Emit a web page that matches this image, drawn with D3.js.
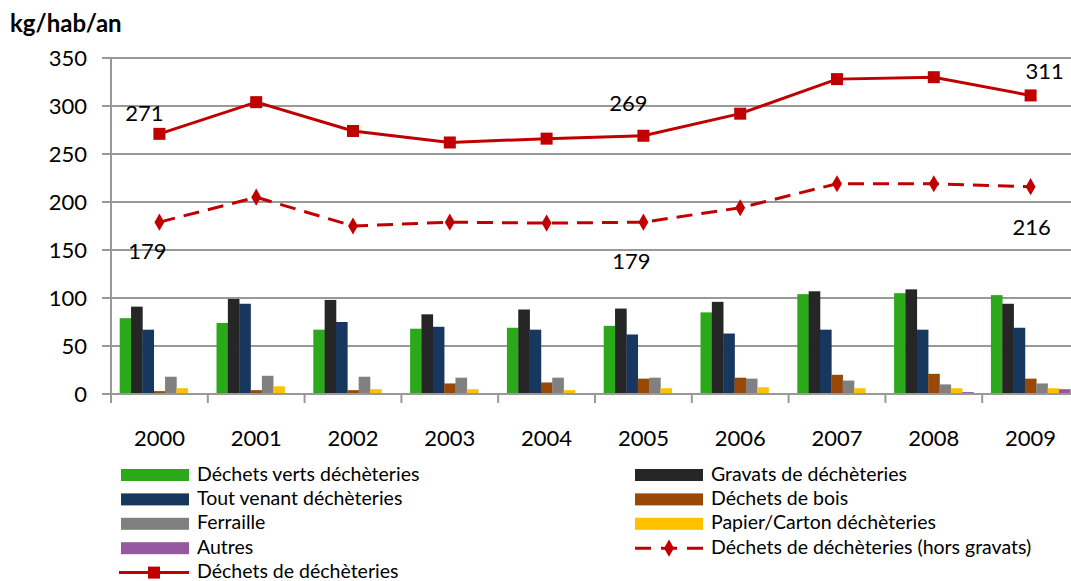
<!DOCTYPE html>
<meta charset="utf-8">
<style>
body { margin: 0; background: #fff; }
text { font-family: Lato, "Open Sans", sans-serif; fill: #000; }
.grid line { stroke: #999; stroke-width: 2px; }
</style>
<body>
<script src="https://d3js.org/d3.v7.min.js"></script>
<script>
// categories and values (kg/hab/an)
var years = ["2000", "2001", "2002", "2003", "2004", "2005", "2006", "2007", "2008", "2009"];

var vertsValues   = [79, 74, 67, 68, 69, 71, 85, 104, 105, 103];
var gravatsValues = [91, 99, 98, 83, 88, 89, 96, 107, 109, 94];
var toutValues    = [67, 94, 75, 70, 67, 62, 63, 67, 67, 69];
var boisValues    = [3, 4, 4, 11, 12, 16, 17, 20, 21, 16];
var ferValues     = [18, 19, 18, 17, 17, 17, 16, 14, 10, 11];
var papierValues  = [6, 8, 5, 5, 4, 6, 7, 6, 6, 6];
var autresValues  = [0.5, 0.5, 1, 1, 0.5, 0.5, 1, 1, 2, 5];

var totalValues    = [271, 304, 274, 262, 266, 269, 292, 328, 330, 311];
var horsGravValues = [179, 205, 175, 179, 178, 179, 194, 219, 219, 216];

// labelled points (index into years) and the text shown
var totalLabels    = [{i: 0, text: "271"}, {i: 5, text: "269"}, {i: 9, text: "311"}];
var horsGravLabels = [{i: 0, text: "179"}, {i: 5, text: "179"}, {i: 9, text: "216"}];

var yTicks = [0, 50, 100, 150, 200, 250, 300, 350];

var barSeries = [
  {name: "Déchets verts déchèteries", color: "#2ca81b", values: vertsValues},
  {name: "Gravats de déchèteries", color: "#262626", values: gravatsValues},
  {name: "Tout venant déchèteries", color: "#17375e", values: toutValues},
  {name: "Déchets de bois", color: "#984807", values: boisValues},
  {name: "Ferraille", color: "#808080", values: ferValues},
  {name: "Papier/Carton déchèteries", color: "#ffc000", values: papierValues},
  {name: "Autres", color: "#9558a0", values: autresValues}
];

var red = "#c00000";

// plot area (the right edge runs past the picture, as in the original)
var margin = {top: 58, left: 111, right: 1079, bottom: 394};

var svg = d3.select("body").append("svg")
    .attr("width", 1071)
    .attr("height", 581);

var x = d3.scaleBand().domain(years).range([margin.left, margin.right]).paddingInner(0.18).paddingOuter(0.09);
var xBand = d3.scaleBand().domain(years).range([margin.left, margin.right]);
var xSub = d3.scaleBand().domain(d3.range(barSeries.length)).range([0, x.bandwidth()]);
var y = d3.scaleLinear().domain([0, 350]).range([margin.bottom, margin.top]);

// gridlines
svg.append("g").attr("class", "grid")
  .selectAll("line").data(yTicks).enter().append("line")
    .attr("x1", margin.left - 9).attr("x2", 1071)
    .attr("y1", function(d) { return y(d); })
    .attr("y2", function(d) { return y(d); });

// y axis
svg.append("line")
    .attr("x1", margin.left).attr("x2", margin.left)
    .attr("y1", margin.top).attr("y2", margin.bottom + 9)
    .attr("stroke", "#999").attr("stroke-width", 2);

svg.append("g").selectAll("text").data(yTicks).enter().append("text")
    .attr("x", 87)
    .attr("y", function(d) { return y(d) + 8; })
    .attr("text-anchor", "end")
    .style("font-size", "22px")
    .text(function(d) { return d; });

// bars
barSeries.forEach(function(s, i) {
  svg.append("g").selectAll("rect").data(s.values).enter().append("rect")
      .attr("x", function(d, j) { return x(years[j]) + xSub(i); })
      .attr("width", xSub.bandwidth() + 0.3)
      .attr("y", function(d) { return y(d); })
      .attr("height", function(d) { return y(0) - y(d); })
      .attr("fill", s.color);
});

// x axis
svg.append("line")
    .attr("x1", margin.left).attr("x2", 1071)
    .attr("y1", y(0)).attr("y2", y(0))
    .attr("stroke", "#999").attr("stroke-width", 2);

svg.append("g").selectAll("line").data(years).enter().append("line")
    .attr("x1", function(d) { return xBand(d); })
    .attr("x2", function(d) { return xBand(d); })
    .attr("y1", y(0)).attr("y2", y(0) + 9)
    .attr("stroke", "#999").attr("stroke-width", 2);

svg.append("g").selectAll("text").data(years).enter().append("text")
    .attr("x", function(d) { return xBand(d) + xBand.bandwidth() / 2; })
    .attr("y", 446)
    .attr("text-anchor", "middle")
    .style("font-size", "22px")
    .text(function(d) { return d; });

// lines
var cx = function(d, i) { return xBand(years[i]) + xBand.bandwidth() / 2; };

var line = d3.line().x(cx).y(function(d) { return y(d); });

svg.append("path").datum(horsGravValues)
    .attr("d", line)
    .attr("fill", "none").attr("stroke", red).attr("stroke-width", 3)
    .attr("stroke-dasharray", "16,9");

svg.append("g").selectAll("path").data(horsGravValues).enter().append("path")
    .attr("d", d3.symbol().type(d3.symbolDiamond).size(85))
    .attr("transform", function(d, i) { return "translate(" + cx(d, i) + "," + y(d) + ")"; })
    .attr("fill", red);

svg.append("path").datum(totalValues)
    .attr("d", line)
    .attr("fill", "none").attr("stroke", red).attr("stroke-width", 3);

svg.append("g").selectAll("rect").data(totalValues).enter().append("rect")
    .attr("x", function(d, i) { return cx(d, i) - 6; })
    .attr("y", function(d) { return y(d) - 6; })
    .attr("width", 12).attr("height", 12)
    .attr("fill", red);

// data labels (offsets from the point, as placed in the original)
var totalOff = [[-15, -13], [-15, -25], [14, -16]];
var horsOff  = [[-12, 37], [-12, 47], [1, 48]];

svg.append("g").selectAll("text").data(totalLabels).enter().append("text")
    .attr("x", function(d, k) { return cx(null, d.i) + totalOff[k][0]; })
    .attr("y", function(d, k) { return y(totalValues[d.i]) + totalOff[k][1]; })
    .attr("text-anchor", "middle")
    .style("font-size", "22px")
    .text(function(d) { return d.text; });

svg.append("g").selectAll("text").data(horsGravLabels).enter().append("text")
    .attr("x", function(d, k) { return cx(null, d.i) + horsOff[k][0]; })
    .attr("y", function(d, k) { return y(horsGravValues[d.i]) + horsOff[k][1]; })
    .attr("text-anchor", "middle")
    .style("font-size", "22px")
    .text(function(d) { return d.text; });

// unit title
svg.append("text")
    .attr("x", 10).attr("y", 32)
    .style("font-size", "24px").style("font-weight", "bold")
    .text("kg/hab/an");

// legend
var legendItems = [
  {s: barSeries[0], col: 0, row: 0},
  {s: barSeries[1], col: 1, row: 0},
  {s: barSeries[2], col: 0, row: 1},
  {s: barSeries[3], col: 1, row: 1},
  {s: barSeries[4], col: 0, row: 2},
  {s: barSeries[5], col: 1, row: 2},
  {s: barSeries[6], col: 0, row: 3},
  {s: {name: "Déchets de déchèteries (hors gravats)", type: "dash"}, col: 1, row: 3},
  {s: {name: "Déchets de déchèteries", type: "solid"}, col: 0, row: 4}
];
var colX = [121, 635];
var legend = svg.append("g");
legendItems.forEach(function(it) {
  var lx = colX[it.col], ly = 475 + it.row * 24.4;
  if (it.s.type === "dash") {
    legend.append("line").attr("x1", lx).attr("x2", lx + 68).attr("y1", ly).attr("y2", ly)
        .attr("stroke", red).attr("stroke-width", 3).attr("stroke-dasharray", "16,10");
    legend.append("path").attr("d", d3.symbol().type(d3.symbolDiamond).size(85))
        .attr("transform", "translate(" + (lx + 34) + "," + ly + ")").attr("fill", red);
  } else if (it.s.type === "solid") {
    legend.append("line").attr("x1", lx - 2).attr("x2", lx + 68).attr("y1", ly).attr("y2", ly)
        .attr("stroke", red).attr("stroke-width", 3);
    legend.append("rect").attr("x", lx + 27).attr("y", ly - 6).attr("width", 12).attr("height", 12).attr("fill", red);
  } else {
    legend.append("rect").attr("x", lx).attr("y", ly - 6).attr("width", 68).attr("height", 12).attr("fill", it.s.color);
  }
  legend.append("text").attr("x", lx + 76).attr("y", ly + 5.5)
      .style("font-size", "19.5px").text(it.s.name);
});
</script>
</body>
